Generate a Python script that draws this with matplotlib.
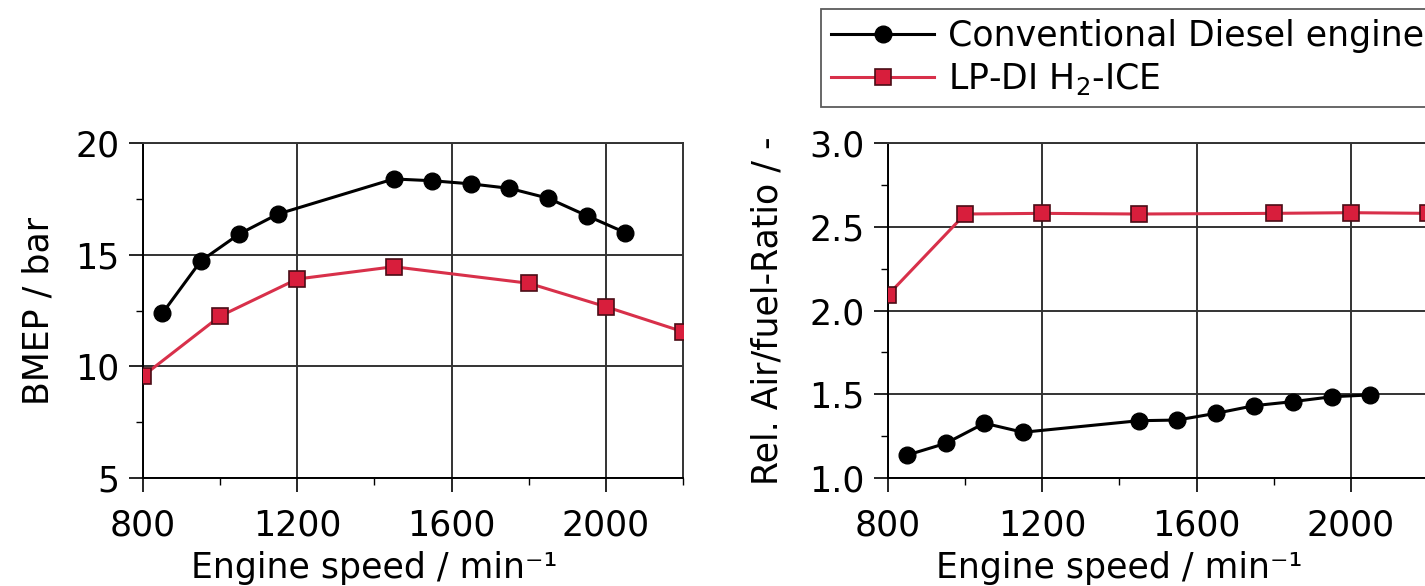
import matplotlib
matplotlib.use("Agg")
import matplotlib.pyplot as plt
from matplotlib.ticker import MultipleLocator, FormatStrFormatter

# ---- data ----
diesel_speed = [850, 950, 1050, 1150, 1450, 1550, 1650, 1750, 1850, 1950, 2050]
diesel_bmep = [12.37, 14.72, 15.93, 16.82, 18.39, 18.31, 18.17, 17.97, 17.53, 16.75, 15.99]
diesel_lambda = [1.137, 1.207, 1.327, 1.273, 1.342, 1.346, 1.386, 1.432, 1.456, 1.485, 1.496]

h2_speed = [800, 1000, 1200, 1450, 1800, 2000, 2200]
h2_bmep = [9.57, 12.25, 13.91, 14.46, 13.72, 12.67, 11.55]
h2_lambda = [2.093, 2.576, 2.58, 2.576, 2.58, 2.584, 2.58]

label_diesel = "Conventional Diesel engine"
label_h2 = "LP-DI H$_2$-ICE"
xlabel = "Engine speed / min\u207b\u00b9"
ylabel_left = "BMEP / bar"
ylabel_right = "Rel. Air/fuel-Ratio / -"

plt.rcParams['font.family'] = ['DejaVu Sans']
plt.rcParams['mathtext.fontset'] = 'dejavusans'

FS_TICK = 25
FS_LAB = 25
FS_LEG = 25
black = "#000000"
red_line = "#d8304a"
red_fill = "#d81e3c"
red_edge = "#4a0d16"
grid_c = "#333333"

fig = plt.figure(figsize=(14.25, 5.86), dpi=100)
axL = fig.add_axes([143 / 1425, 1 - 478 / 586, 540 / 1425, 335 / 586])
axR = fig.add_axes([888 / 1425, 1 - 478 / 586, 540 / 1425, 335 / 586])

def style(ax):
    ax.set_xlim(800, 2200)
    ax.xaxis.set_major_locator(MultipleLocator(400))
    ax.xaxis.set_minor_locator(MultipleLocator(200))
    ax.grid(True, which='major', color=grid_c, linewidth=1.4)
    ax.tick_params(which='major', direction='out', length=10, width=1.2,
                   labelsize=FS_TICK, pad=7, color=black)
    ax.tick_params(axis='x', which='major', pad=12)
    ax.tick_params(which='minor', direction='out', length=5, width=1.0, color=black)
    for s in ['top', 'right']:
        ax.spines[s].set_color(grid_c)
        ax.spines[s].set_linewidth(1.4)
    for s in ['left', 'bottom']:
        ax.spines[s].set_color(black)
        ax.spines[s].set_linewidth(1.4)
    ax.set_axisbelow(True)
    ax.set_xlabel(xlabel, fontsize=FS_LAB)
    ax.xaxis.set_label_coords(600 / 1400, -0.217)

def plot_series(ax, yd, yh):
    ax.plot(diesel_speed, yd, color=black, linewidth=2.2, marker='o',
            markersize=12, markerfacecolor=black, markeredgecolor=black,
            label=label_diesel, zorder=3)
    ax.plot(h2_speed, yh, color=red_line, linewidth=2.2, marker='s',
            markersize=11.5, markerfacecolor=red_fill, markeredgecolor=red_edge,
            markeredgewidth=1.2, label=label_h2, zorder=3)

plot_series(axL, diesel_bmep, h2_bmep)
style(axL)
axL.set_ylim(5, 20)
axL.yaxis.set_major_locator(MultipleLocator(5))
axL.yaxis.set_minor_locator(MultipleLocator(2.5))
axL.set_ylabel(ylabel_left, fontsize=FS_LAB, labelpad=14)

plot_series(axR, diesel_lambda, h2_lambda)
style(axR)
axR.set_ylim(1.0, 3.0)
axR.yaxis.set_major_locator(MultipleLocator(0.5))
axR.yaxis.set_minor_locator(MultipleLocator(0.25))
axR.yaxis.set_major_formatter(FormatStrFormatter('%.1f'))
axR.set_ylabel(ylabel_right, fontsize=FS_LAB, labelpad=18)

handles, labels = axR.get_legend_handles_labels()
leg = fig.legend(handles, labels, loc='upper left', bbox_to_anchor=(821 / 1425, 1 - 9 / 586),
                 fontsize=FS_LEG, frameon=True, fancybox=False, edgecolor='#333333',
                 handlelength=2.95, handletextpad=0.4, borderpad=0.3,
                 labelspacing=0.22, borderaxespad=0)
leg.get_frame().set_linewidth(1.3)

fig.savefig("out.png", dpi=100)
